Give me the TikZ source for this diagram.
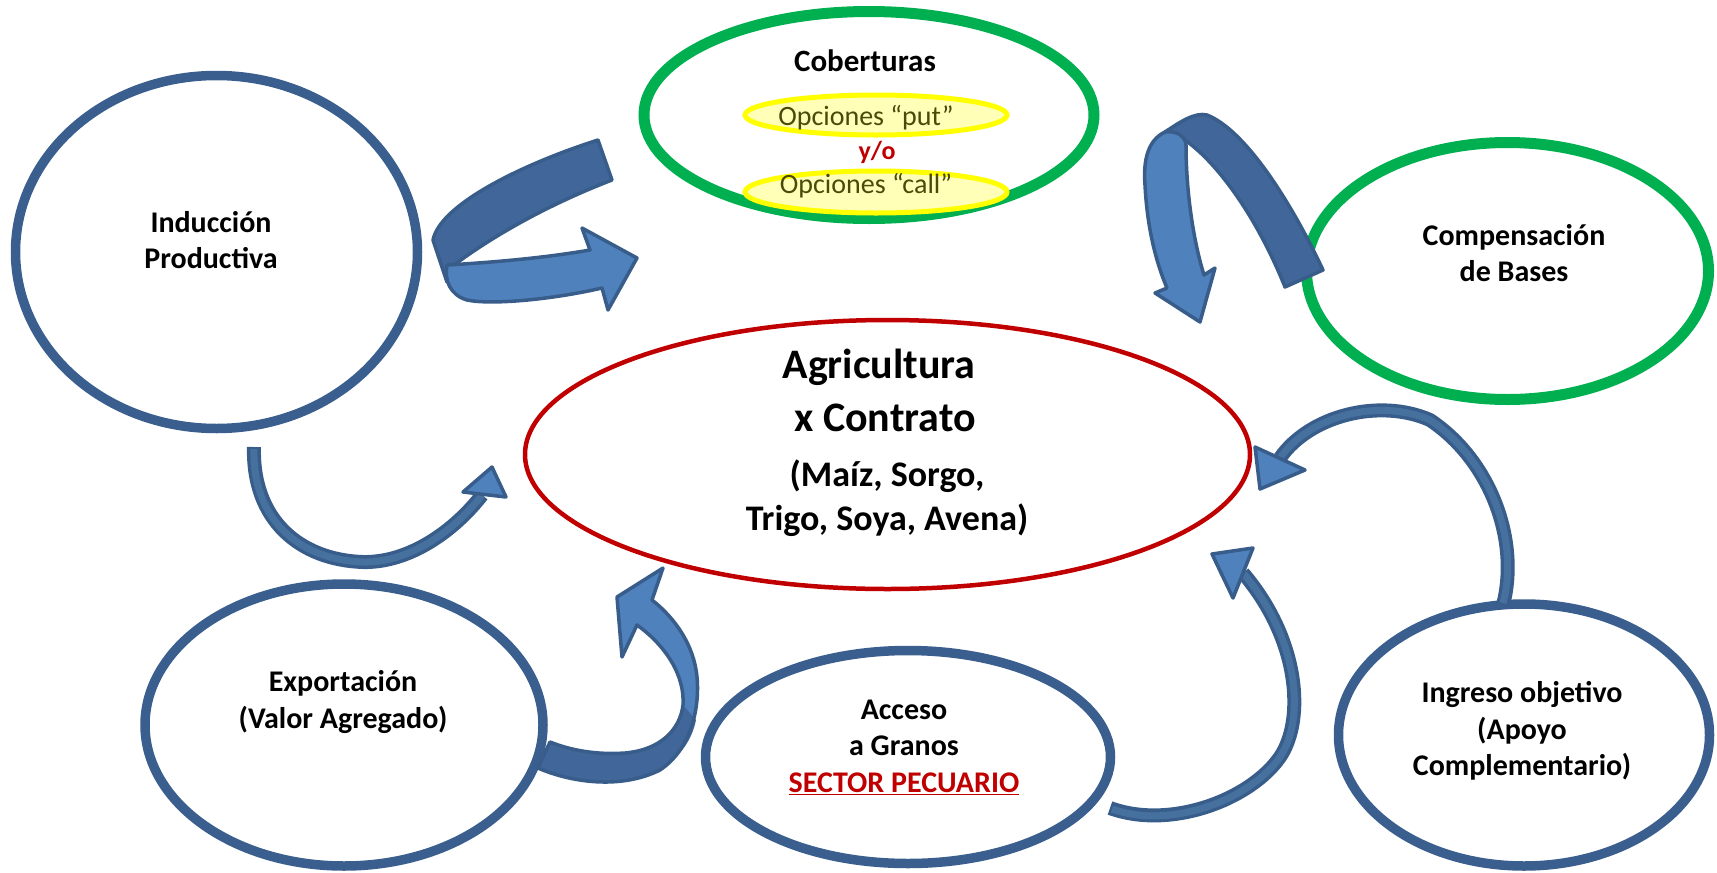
\documentclass[tikz,border=0pt]{standalone}
\usepackage{fontspec}
\setmainfont{Carlito}
\usetikzlibrary{shapes.geometric}
\definecolor{ringblue}{HTML}{3A5F8E}
\definecolor{ringgreen}{HTML}{00B050}
\definecolor{ringred}{HTML}{C00000}
\definecolor{optyel}{HTML}{FFFF00}
\definecolor{optfill}{HTML}{FFFFB8}
\definecolor{opttext}{HTML}{4A4A0A}
\definecolor{arrline}{HTML}{385D8A}
\definecolor{arrlight}{HTML}{4F81BD}
\definecolor{arrdark}{HTML}{41679A}
\definecolor{tubein}{HTML}{46719F}
\begin{document}
\begin{tikzpicture}[x=1pt,y=-1pt,
  lab/.style={font=\fontsize{30}{36.6}\selectfont\bfseries, align=center, inner sep=0},
  bigt/.style={font=\fontsize{42}{50}\selectfont\bfseries, inner sep=0},
  midt/.style={font=\fontsize{36}{44}\selectfont\bfseries, inner sep=0},
  optt/.style={font=\fontsize{28}{34}\selectfont, text=opttext, inner sep=0},
  bluering/.style={ellipse, draw=ringblue, line width=9.5, inner sep=0},
  greenring/.style={ellipse, draw=ringgreen, line width=11, inner sep=0},
  optring/.style={ellipse, draw=optyel, fill=optfill, line width=5, inner sep=0},
  ribbon/.style={draw=arrline, line width=3.5, line join=round},
  tubeout/.style={draw=arrline, line width=14},
  tubein/.style={draw=tubein, line width=7},
  tubehead/.style={fill=arrlight, draw=arrline, line width=3.5, line join=round}
]
\useasboundingbox (0,0) rectangle (1717,873);

% ellipses
\node[bluering, minimum width=402, minimum height=353] (induc) at (216.5,252) {};
\node[greenring, minimum width=450, minimum height=207] (cob) at (869,115) {};
\node[optring, minimum width=262, minimum height=40] (put) at (876,115) {};
\node[optring, minimum width=262, minimum height=42] (call) at (876,192) {};
\node[greenring, minimum width=402, minimum height=257] (comp) at (1507.5,271) {};
\node[ellipse, draw=ringred, line width=4.5, inner sep=0, minimum width=725, minimum height=269] (agri) at (887.5,454.5) {};
\node[bluering, minimum width=398, minimum height=282] (expo) at (344,725) {};
\node[bluering, minimum width=405, minimum height=213] (acc) at (908,757) {};
\node[bluering, minimum width=371, minimum height=262] (ing) at (1524,735) {};

% texts
\node[lab] (tinduc) at (211,240) {Inducción\\Productiva};
\node[lab, font=\fontsize{31}{37}\selectfont\bfseries] (tcob) at (865,61) {Coberturas};
\node[optt] (tput) at (866,118) {Opciones “put”};
\node[lab, text=ringred, font=\fontsize{26}{30}\selectfont\bfseries] (tyo) at (877,152) {y/o};
\node[optt] (tcall) at (866,186) {Opciones “call”};
\node[lab] (tcomp) at (1514,253) {Compensación\\de Bases};
\node[bigt] (tagri1) at (879,367) {Agricultura};
\node[bigt] (tagri2) at (885,418) {x Contrato};
\node[midt] (tagri3) at (887,476) {(Maíz, Sorgo,};
\node[midt] (tagri4) at (887,520) {Trigo, Soya, Avena)};
\node[lab] (texpo) at (343,702) {Exportación\\(Valor Agregado)};
\node[lab] (tacc) at (904,747) {Acceso\\a Granos\\{\color{ringred}\underline{SECTOR PECUARIO}}};
\node[lab] (ting) at (1522,731) {Ingreso objetivo\\(Apoyo\\Complementario)};

% arrow 1: Induccion -> Coberturas (ribbon)
\coordinate (a1s) at (598,140);
\coordinate (a1t) at (637,258);
\path[ribbon, fill=arrdark] (a1s) .. controls (520,165) and (440,205) .. (433,240) -- (447,282) -- (450,268) .. controls (500,230) and (560,200) .. (612,180) -- cycle;
\path[ribbon, fill=arrlight] (447,265) .. controls (500,262) and (550,257) .. (590,250) -- (582,228) -- (a1t) -- (608,310) -- (602,288) .. controls (550,300) and (490,305) .. (467,300) .. controls (450,295) and (444,280) .. (447,265) -- cycle;

% arrow 2: Compensacion -> Agricultura (ribbon)
\coordinate (a2s) at (1323,270);
\coordinate (a2t) at (1200,322);
\path[ribbon, fill=arrdark] (1285,287) -- (a2s) .. controls (1290,200) and (1245,130) .. (1207,115) .. controls (1195,112) and (1180,122) .. (1165,132) -- (1185,140) .. controls (1220,165) and (1258,220) .. (1285,287) -- cycle;
\path[ribbon, fill=arrlight] (1165,132) .. controls (1148,140) and (1143,160) .. (1145,185) .. controls (1147,225) and (1155,260) .. (1167,288) -- (1155,293) -- (a2t) -- (1215,268) -- (1204,275) .. controls (1193,240) and (1186,190) .. (1186,145) .. controls (1186,138) and (1178,130) .. (1165,132) -- cycle;

% arrow 4: Exportacion -> Agricultura (ribbon)
\coordinate (a4s) at (538,768);
\coordinate (a4t) at (617,597);
\path[fill=arrlight] (a4s) .. controls (570,782) and (620,790) .. (660,770) .. controls (690,750) and (700,710) .. (697,677) .. controls (694,645) and (675,618) .. (652,600) -- (663,568) -- (a4t) -- (622,657) -- (637,625) .. controls (665,645) and (685,675) .. (683,705) .. controls (680,730) and (660,750) .. (625,753) .. controls (595,755) and (570,750) .. (550,742) -- cycle;
\path[fill=arrdark] (a4s) .. controls (570,782) and (620,790) .. (660,770) .. controls (680,757) and (692,740) .. (696,720) -- (683,705) .. controls (680,730) and (660,750) .. (625,753) .. controls (595,755) and (570,750) .. (550,742) -- cycle;
\path[ribbon] (a4s) .. controls (570,782) and (620,790) .. (660,770) .. controls (690,750) and (700,710) .. (697,677) .. controls (694,645) and (675,618) .. (652,600) -- (663,568) -- (a4t) -- (622,657) -- (637,625) .. controls (665,645) and (685,675) .. (683,705) .. controls (680,730) and (660,750) .. (625,753) .. controls (595,755) and (570,750) .. (550,742) -- cycle;

% arrow 3: Induccion -> Agricultura (tube)
\coordinate (a3s) at (254,447);
\coordinate (a3b) at (482,495);
\coordinate (a3t) at (492,467);
\path[tubeout] (a3s) .. controls (252,520) and (300,560) .. (363,562) .. controls (410,563) and (455,530) .. (a3b);
\path[tubein] (254,449) .. controls (252,520) and (300,560) .. (363,562) .. controls (410,563) and (455,530) .. (a3b);
\path[tubehead] (463,492) -- (a3t) -- (506,497) -- cycle;

% arrow 5: Acceso -> Agricultura (tube)
\coordinate (a5s) at (1110,808);
\coordinate (a5b) at (1243,573);
\coordinate (a5t) at (1212,554);
\path[tubeout] (a5s) .. controls (1170,830) and (1250,800) .. (1280,757) .. controls (1305,720) and (1300,640) .. (a5b);
\path[tubein] (1112,809) .. controls (1170,830) and (1250,800) .. (1280,757) .. controls (1305,720) and (1300,640) .. (a5b);
\path[tubehead] (1253,548) -- (a5t) -- (1233,598) -- cycle;

% arrow 6: Ingreso -> Agricultura (tube)
\coordinate (a6s) at (1503,605);
\coordinate (a6b) at (1280,458);
\coordinate (a6t) at (1260,489);
\path[tubeout] (a6s) .. controls (1520,540) and (1490,460) .. (1430,420) .. controls (1380,398) and (1310,415) .. (a6b);
\path[tubein] (1503,603) .. controls (1520,540) and (1490,460) .. (1430,420) .. controls (1380,398) and (1310,415) .. (a6b);
\path[tubehead] (1255,447) -- (a6t) -- (1305,470) -- cycle;
\end{tikzpicture}
\end{document}
